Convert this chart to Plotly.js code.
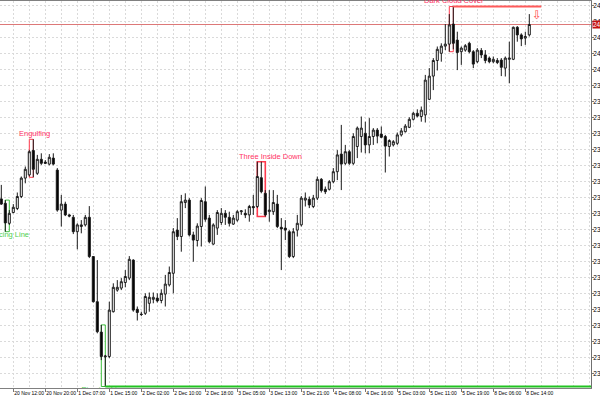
<!DOCTYPE html>
<html><head><meta charset="utf-8">
<script src="https://cdn.plot.ly/plotly-3.0.1.min.js"></script>
<style>html,body{margin:0;padding:0;background:#fff;overflow:hidden}#chart{width:600px;height:400px}</style>
</head><body><div id="chart"></div>
<script>
// ---- data (hourly candles) ----
const openP = [2367.6,2366.5,2361.5,2364.2,2365.2,2368.2,2372.8,2373.6,2379.7,2374.0,
2377.5,2376.8,2376.3,2377.8,2374.8,2364.8,2366.3,2363.6,2363.0,2359.4,
2360.7,2361.1,2363.0,2353.2,2341.9,2334.3,2328.1,2328.2,2339.4,2344.8,
2345.3,2346.7,2347.8,2352.3,2340.0,2338.8,2339.0,2341.5,2342.5,2342.8,
2342.2,2343.8,2346.1,2349.0,2359.8,2358.2,2366.7,2367.3,2358.6,2357.2,
2360.7,2366.9,2362.8,2356.3,2360.3,2361.7,2364.0,2363.0,2361.3,2362.3,
2364.4,2364.0,2363.6,2365.7,2365.7,2372.9,2369.0,2364.4,2364.4,2366.3,
2360.5,2360.3,2359.4,2353.2,2359.8,2361.1,2367.3,2367.5,2365.7,2367.8,
2372.5,2370.0,2370.0,2371.9,2374.4,2378.8,2376.5,2379.4,2376.5,2380.7,
2383.2,2384.0,2381.1,2383.2,2384.8,2383.8,2383.2,2380.7,2381.1,2381.5,
2383.6,2384.4,2385.5,2387.5,2389.0,2388.2,2388.6,2392.5,2398.3,2402.2,
2404.0,2405.8,2406.3,2411.3,2407.3,2404.4,2404.8,2406.5,2404.4,2401.9,
2404.7,2403.6,2402.8,2401.9,2402.2,2402.3,2400.3,2402.5,2402.5,2410.5,
2408.6,2407.8,2408.6];
const highP = [2371.1,2367.3,2364.8,2366.3,2369.2,2373.2,2375.7,2379.8,2382.5,2378.6,
2379.0,2377.3,2378.8,2379.0,2375.3,2368.6,2366.9,2363.8,2363.6,2361.5,
2362.3,2363.6,2365.8,2353.3,2352.3,2336.1,2328.6,2341.9,2346.5,2347.3,
2347.8,2349.8,2353.3,2352.5,2340.7,2339.4,2344.0,2344.2,2344.2,2344.0,
2345.0,2348.6,2350.7,2360.3,2362.8,2368.6,2369.0,2367.8,2359.4,2361.5,
2367.8,2370.7,2363.6,2361.5,2364.8,2365.3,2364.8,2364.4,2363.6,2364.8,
2364.8,2365.0,2366.1,2368.6,2376.9,2376.9,2369.8,2369.8,2369.8,2368.6,
2362.8,2362.3,2359.8,2360.3,2363.6,2368.3,2369.2,2368.2,2368.6,2373.2,
2372.8,2370.7,2372.3,2375.3,2379.8,2386.1,2381.1,2379.8,2384.0,2385.7,
2388.2,2386.9,2387.8,2385.3,2385.3,2385.7,2383.6,2382.5,2382.3,2384.2,
2385.3,2386.3,2388.0,2389.4,2390.0,2390.7,2398.6,2400.3,2402.8,2405.7,
2406.5,2411.3,2413.8,2415.7,2409.4,2405.7,2406.3,2406.9,2404.8,2405.3,
2405.3,2404.8,2403.2,2403.2,2402.8,2402.8,2403.2,2406.9,2410.7,2410.8,
2409.0,2409.4,2413.8];
const lowP = [2366.1,2359.4,2361.1,2364.0,2364.8,2367.8,2371.5,2373.2,2373.0,2373.6,
2376.1,2376.3,2376.0,2376.0,2364.4,2360.7,2363.3,2363.0,2358.8,2355.0,
2359.0,2360.7,2352.8,2341.7,2334.0,2327.3,2320.7,2327.8,2339.2,2344.4,
2344.8,2345.5,2347.3,2339.4,2337.2,2338.3,2338.6,2339.4,2341.5,2341.7,
2341.5,2340.7,2345.7,2344.0,2357.3,2354.4,2365.3,2358.2,2351.9,2355.7,
2355.7,2361.9,2356.5,2356.1,2358.6,2361.1,2361.1,2360.7,2361.1,2361.9,
2363.6,2362.8,2361.9,2363.6,2365.3,2369.0,2363.2,2361.9,2363.6,2360.3,
2349.8,2357.3,2352.8,2352.8,2358.2,2360.7,2365.7,2365.3,2365.3,2367.3,
2369.2,2368.8,2369.7,2371.5,2372.3,2369.8,2376.1,2376.1,2376.1,2377.8,
2379.2,2379.0,2379.0,2381.1,2381.5,2382.8,2374.2,2378.2,2380.7,2381.1,
2383.2,2384.2,2385.3,2387.2,2388.0,2386.9,2386.7,2392.3,2394.8,2399.7,
2401.9,2404.8,2404.4,2405.0,2399.8,2401.1,2404.4,2404.0,2400.3,2401.5,
2402.8,2401.5,2401.5,2401.5,2401.3,2398.3,2398.2,2396.5,2402.3,2406.9,
2405.8,2406.1,2408.2];
const closeP = [2366.3,2361.6,2364.0,2365.5,2368.2,2372.8,2375.0,2379.4,2375.0,2377.5,
2376.5,2376.5,2378.0,2376.3,2364.8,2366.3,2363.6,2363.3,2359.4,2361.1,
2361.1,2363.0,2353.2,2341.9,2334.4,2328.2,2328.3,2339.8,2345.5,2345.5,
2346.9,2348.2,2352.5,2339.8,2339.2,2338.7,2343.2,2343.0,2343.0,2342.1,
2344.0,2346.3,2349.2,2359.4,2358.2,2366.9,2367.3,2358.6,2357.3,2360.8,
2367.2,2362.5,2356.9,2361.1,2364.2,2364.0,2363.0,2361.5,2362.8,2364.4,
2364.6,2363.6,2365.7,2365.4,2373.2,2369.4,2363.6,2364.8,2366.7,2360.7,
2360.1,2359.8,2353.2,2359.4,2361.5,2367.8,2367.8,2366.1,2367.8,2372.5,
2369.7,2369.4,2371.9,2374.4,2378.6,2376.3,2379.4,2376.5,2383.2,2385.3,
2385.3,2381.1,2383.2,2384.8,2383.3,2383.0,2380.8,2382.2,2381.9,2383.6,
2384.6,2385.8,2387.5,2389.0,2388.3,2389.8,2397.3,2398.3,2402.2,2405.0,
2405.8,2406.3,2411.1,2406.5,2404.2,2405.3,2405.9,2404.4,2401.3,2404.8,
2403.6,2402.2,2401.9,2402.5,2401.7,2400.5,2402.8,2402.8,2410.5,2408.6,
2407.6,2408.2,2411.2];

const tickIndex = [-5,3,11,19,27,35,43,51,59,67,75,83,91,99,107,115,123,131];
const tickLabels = ["20 Nov 2025","20 Nov 12:00","20 Nov 20:00","1 Dec 07:00","1 Dec 15:00",
"2 Dec 02:00","2 Dec 10:00","2 Dec 18:00","3 Dec 05:00","3 Dec 13:00","3 Dec 21:00",
"4 Dec 08:00","4 Dec 16:00","5 Dec 03:00","5 Dec 11:00","5 Dec 19:00","8 Dec 06:00","8 Dec 14:00"];

// candlestick patterns: name, first candle, last candle
const patternNames = ["Piercing Line","Engulfing","Piercing Line","Three Inside Down","Dark Cloud Cover"];
const patternFrom  = [1, 7, 25, 64, 112];
const patternTo    = [2, 8, 26, 66, 113];
const patternBull  = [true, false, true, false, false];

// ---- drawing ----
const idx = openP.map((_, i) => i);
const FONT = 'Liberation Sans, Arial, sans-serif';
const xRange = [-0.325, 147.425];
const yRange = [2320.325, 2417.075];

const traces = [{
  type: 'candlestick', x: idx, open: openP, high: highP, low: lowP, close: closeP,
  increasing: {line: {color: '#1a1a1a', width: 1}, fillcolor: '#ffffff'},
  decreasing: {line: {color: '#1a1a1a', width: 1}, fillcolor: '#000000'},
  whiskerwidth: 0, hoverinfo: 'skip', showlegend: false
}];

const shapes = [], annotations = [];
const red = '#ff3b4e', green = '#3cc03c';
patternNames.forEach((name, k) => {
  const a = patternFrom[k], b = patternTo[k];
  const hi = Math.max(...highP.slice(a, b + 1));
  const lo = Math.min(...lowP.slice(a, b + 1));
  const col = patternBull[k] ? green : red;
  shapes.push({type: 'rect', xref: 'x', yref: 'y', x0: a, x1: b, y0: lo, y1: hi,
    line: {color: col, width: name === 'Three Inside Down' ? 1.6 : 1}, layer: 'between'});
  const mid = (a + b) / 2;
  if (patternBull[k]) {
    // clipped to the plot area, like the terminal does
    traces.push({type: 'scatter', mode: 'text', x: [mid], y: [lo], text: [name],
      textposition: 'bottom center', cliponaxis: true, hoverinfo: 'skip', showlegend: false,
      textfont: {family: FONT, size: 7.5, color: '#4fcf4f'}});
  } else {
    annotations.push({xref: 'x', yref: 'y', x: mid, y: hi, text: name, showarrow: false,
      xanchor: 'center', yanchor: 'bottom', yshift: -1,
      xshift: name === 'Three Inside Down' ? 9 : 3,
      font: {family: FONT, size: 7.5, color: '#ff3366'}});
  }
});
// support line from piercing-line low (bottom pattern)
const pl = patternTo[2];
shapes.push({type: 'line', xref: 'x', yref: 'y', x0: pl, x1: xRange[1], y0: lowP[pl], y1: lowP[pl],
  line: {color: '#22c322', width: 2}, layer: 'above'});
// resistance line from dark cloud cover high
const dc = patternTo[4];
shapes.push({type: 'line', xref: 'x', yref: 'y', x0: dc, x1: idx.length + 2, y0: highP[dc], y1: highP[dc],
  line: {color: '#ff5a5a', width: 2}, layer: 'above'});
annotations.push({xref: 'x', yref: 'y', x: idx.length + 1, y: highP[dc], text: '⇩', showarrow: false,
  xanchor: 'center', yanchor: 'top', yshift: 1, font: {family: 'DejaVu Sans', size: 12, color: '#ff4a4a'}});
// bid line
const last = closeP[closeP.length - 1];
shapes.push({type: 'line', xref: 'paper', yref: 'y', x0: 0, x1: 1, y0: last, y1: last,
  line: {color: '#dd7878', width: 1}, layer: 'between'});
annotations.push({xref: 'paper', yref: 'y', x: 1, y: last, text: last.toFixed(1), showarrow: false,
  xanchor: 'left', yanchor: 'middle', xshift: 1, bgcolor: '#c41212', borderpad: 0,
  font: {family: FONT, size: 6.5, color: '#ffffff'}});

const grid = {gridcolor: '#dadada', griddash: '2px,2px', gridwidth: 1};
const layout = {
  width: 600, height: 400,
  margin: {l: 0, r: 9, t: 1, b: 12},
  paper_bgcolor: '#ffffff', plot_bgcolor: '#ffffff',
  font: {family: FONT, size: 7, color: '#000'},
  boxgap: 0.28,
  xaxis: Object.assign({
    range: xRange, rangeslider: {visible: false}, fixedrange: true,
    tickmode: 'array', tickvals: tickIndex, ticktext: tickLabels, tickangle: 0,
    ticks: 'outside', ticklen: 3, tickcolor: '#777', ticklabelposition: 'outside right',
    ticklabelstandoff: 0,
    tickfont: {family: FONT, size: 5, color: '#000'},
    showgrid: true, zeroline: false,
    showline: true, mirror: true, linecolor: '#808080', linewidth: 1,
    minor: Object.assign({tickmode: 'linear', tick0: 3, dtick: 4, showgrid: true, ticks: ''}, grid)
  }, grid),
  yaxis: Object.assign({
    range: yRange, side: 'right', fixedrange: true,
    tickmode: 'linear', tick0: 0, dtick: 4,
    ticks: 'outside', ticklen: 2, tickcolor: '#777', ticklabelstandoff: -2,
    tickfont: {family: FONT, size: 6.5, color: '#000'},
    showgrid: true, zeroline: false,
    showline: true, linecolor: '#707070', linewidth: 1
  }, grid),
  shapes: shapes, annotations: annotations
};
Plotly.newPlot('chart', traces, layout, {staticPlot: true, displayModeBar: false});
</script></body></html>
